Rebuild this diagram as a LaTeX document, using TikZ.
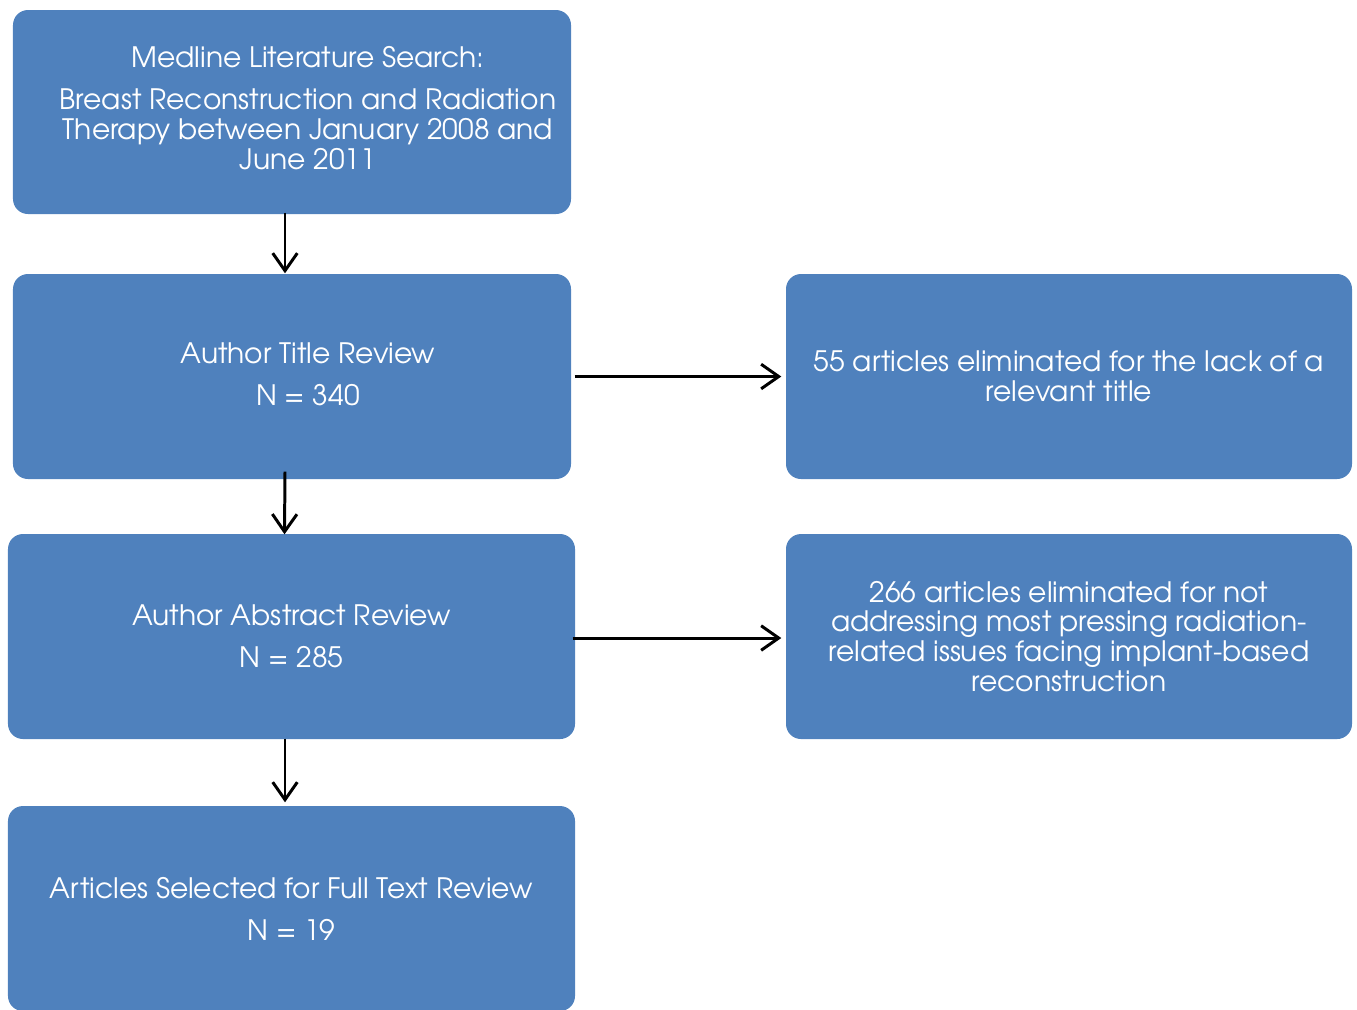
\documentclass[tikz,border=0pt]{standalone}
\usepackage{xcolor}
\usepackage{fontspec}
\setmainfont{TeX Gyre Adventor}
\usepackage{tikz}
\usetikzlibrary{arrows.meta}

\definecolor{boxblue}{HTML}{4F81BD}

\begin{document}
\begin{tikzpicture}[
    box/.style={fill=boxblue, rounded corners=0.15cm, inner sep=0pt,
        minimum height=2.05cm, text=white, align=center,
        font=\fontsize{8}{8.5}\selectfont},
    boxtext/.style={text=white, align=center, font=\fontsize{8}{8.5}\selectfont},
    arrow/.style={-{Straight Barb[length=5pt,width=7pt]}, line width=0.85pt}
]
    \useasboundingbox (0,0) rectangle (13.57,-10.09);

    % Left column
    \node[box, minimum width=5.58cm, minimum height=2.04cm] (search) at (2.92,-1.12) {};
    \node[boxtext] (searchtext) at (3.08,-1.08)
        {Medline Literature Search:\\[3.5pt]
         Breast Reconstruction and Radiation\\
         Therapy between January 2008 and\\
         June 2011};

    \node[box, minimum width=5.58cm] (title) at (2.92,-3.765) {};
    \node[boxtext] (titletext) at (3.08,-3.74)
        {Author Title Review\\[3.5pt] N = 340};

    \node[box, minimum width=5.67cm] (abstract) at (2.915,-6.365)
        {Author Abstract Review\\[3.5pt] N = 285};

    \node[box, minimum width=5.67cm] (selected) at (2.915,-9.085)
        {Articles Selected for Full Text Review\\[3.5pt] N = 19};

    % Right column
    \node[box, minimum width=5.66cm] (elim1) at (10.69,-3.765)
        {55 articles eliminated for the lack of a\\ relevant title};

    \node[box, minimum width=5.66cm] (elim2) at (10.69,-6.365)
        {266 articles eliminated for not\\
         addressing most pressing radiation-\\
         related issues facing implant-based\\
         reconstruction};

    % Arrows
    \draw[arrow] ([xshift=-0.07cm,yshift=0.02cm]search.south) -- ([xshift=-0.07cm]title.north);
    \draw[arrow] ([xshift=-0.07cm,yshift=0.08cm]title.south) -- ([xshift=-0.07cm,yshift=-0.01cm]abstract.north);
    \draw[arrow] ([xshift=-0.065cm,yshift=0.01cm]abstract.south) -- ([xshift=-0.065cm,yshift=0.03cm]selected.north);
    \draw[arrow] ([xshift=0.03cm]title.east) -- ([xshift=-0.04cm]elim1.west);
    \draw[arrow] ([xshift=-0.03cm,yshift=-0.015cm]abstract.east) -- ([xshift=-0.04cm,yshift=-0.015cm]elim2.west);
\end{tikzpicture}
\end{document}
